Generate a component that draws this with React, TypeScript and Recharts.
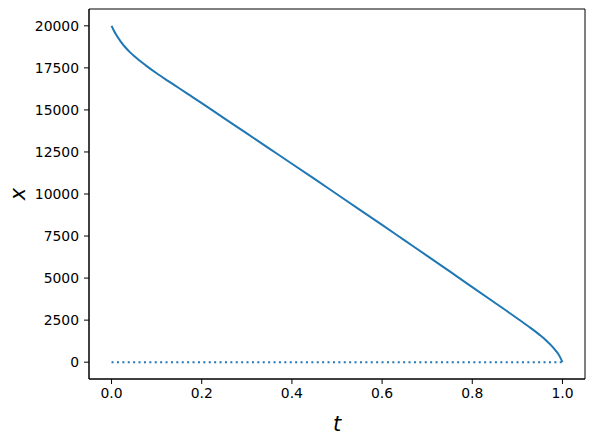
import React from 'react';
import { LineChart, Line, XAxis, YAxis, ReferenceArea } from 'recharts';

const tValues = [0, 0.005, 0.01, 0.02, 0.03, 0.04, 0.05, 0.075, 0.1, 0.125, 0.15, 0.175, 0.2, 0.25, 0.3, 0.35, 0.4, 0.45, 0.5, 0.55, 0.6, 0.65, 0.7, 0.75, 0.8, 0.85, 0.875, 0.9, 0.925, 0.95, 0.965, 0.975, 0.985, 0.993, 1.0];
const xValues = [20000, 19720, 19480, 19080, 18740, 18450, 18200, 17665, 17180, 16730, 16290, 15845, 15400, 14500, 13600, 12700, 11800, 10895, 9985, 9075, 8160, 7240, 6320, 5395, 4465, 3535, 3070, 2600, 2120, 1610, 1265, 1000, 690, 390, 0];
const tZero = [0, 1];
const zeroValues = [0, 0];
const xTicks = [0, 0.2, 0.4, 0.6, 0.8, 1.0];
const yTicks = [0, 2500, 5000, 7500, 10000, 12500, 15000, 17500, 20000];

const curve = tValues.map((t, i) => ({ t, x: xValues[i] }));
const zeroLine = tZero.map((t, i) => ({ t, x: zeroValues[i] }));

const FONT = 'DejaVu Sans, sans-serif';
const BLUE = '#1f77b4';

const XLabel = (props: any) => {
  const vb = props.viewBox || {};
  return (
    <text x={vb.x + vb.width / 2} y={vb.y + 52} textAnchor="middle" fontFamily={FONT} fontStyle="italic" fontSize={21} fill="#000">
      t
    </text>
  );
};

const YLabel = (props: any) => {
  const vb = props.viewBox || {};
  const cx = 17.5;
  const cy = vb.y + vb.height / 2;
  return (
    <text x={cx} y={cy} transform={`rotate(-90 ${cx} ${cy})`} textAnchor="middle" dominantBaseline="central" fontFamily={FONT} fontStyle="italic" fontSize={21} fill="#000">
      x
    </text>
  );
};

export default function App() {
  return (
    <div style={{ position: 'absolute', left: 0, top: 0, width: 595, height: 438, background: '#fff' }}>
      <LineChart width={595} height={438} margin={{ top: 9, right: 10, left: 0, bottom: 0 }}>
        <XAxis
          type="number"
          dataKey="t"
          domain={[-0.05, 1.05]}
          ticks={xTicks}
          tickFormatter={(v: number) => v.toFixed(1)}
          allowDataOverflow
          height={59}
          tickSize={5}
          tickMargin={4}
          axisLine={{ stroke: '#000', strokeWidth: 1 }}
          tickLine={{ stroke: '#000', strokeWidth: 1 }}
          tick={{ fill: '#000', fontFamily: FONT, fontSize: 13.9 }}
          label={<XLabel />}
        />
        <YAxis
          type="number"
          domain={[-1000, 21000]}
          ticks={yTicks}
          allowDataOverflow
          width={89}
          tickSize={5}
          tickMargin={5}
          axisLine={{ stroke: '#000', strokeWidth: 1 }}
          tickLine={{ stroke: '#000', strokeWidth: 1 }}
          tick={{ fill: '#000', fontFamily: FONT, fontSize: 13.9 }}
          label={<YLabel />}
        />
        <ReferenceArea x1={-0.05} x2={1.05} y1={-1000} y2={21000} fill="none" stroke="#000" strokeWidth={1} ifOverflow="visible" />
        <Line data={curve} dataKey="x" type="monotone" stroke={BLUE} strokeWidth={2} dot={false} isAnimationActive={false} />
        <Line data={zeroLine} dataKey="x" type="linear" stroke={BLUE} strokeWidth={2} strokeDasharray="2 3.4" dot={false} isAnimationActive={false} />
      </LineChart>
    </div>
  );
}
